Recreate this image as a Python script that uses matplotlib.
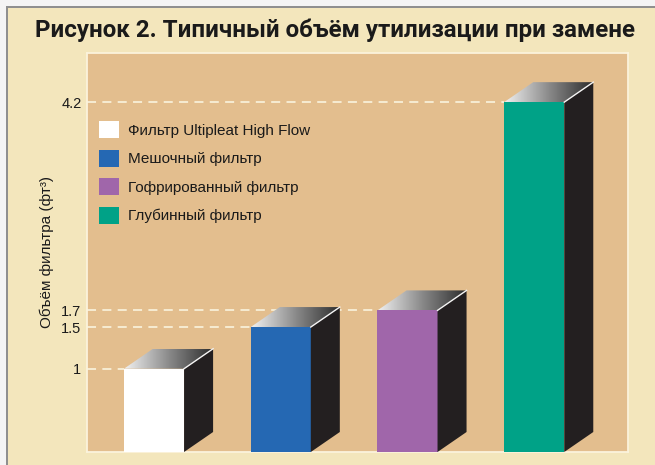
import numpy as np
import matplotlib
matplotlib.use("Agg")
import matplotlib.pyplot as plt
from matplotlib.patches import Polygon, Rectangle, Patch

# данные
categories = ['Фильтр Ultipleat High Flow', 'Мешочный фильтр',
              'Гофрированный фильтр', 'Глубинный фильтр']
volumes = [1, 1.5, 1.7, 4.2]
colors = ['#ffffff', '#2568b3', '#a066aa', '#00a287']
yticks = [1, 1.5, 1.7, 4.2]

title = 'Рисунок 2. Типичный объём утилизации при замене'
ylabel = 'Объём фильтра (фт³)'

plt.rcParams['font.family'] = ['Liberation Sans', 'DejaVu Sans']

W, H = 655, 465
fig = plt.figure(figsize=(W / 100, H / 100), dpi=100)
fig.patch.set_facecolor('#f4f4f4')
# кремовая подложка и серая тень сверху/слева
fig.patches.append(Rectangle((6 / W, 0), 1, 1 - 6 / H, transform=fig.transFigure,
                             facecolor='#8f8f8f', edgecolor='none', zorder=-2))
fig.patches.append(Rectangle((8 / W, 0), 1, 1 - 8 / H, transform=fig.transFigure,
                             facecolor='#f3e6bc', edgecolor='none', zorder=-1))

ax = fig.add_axes([87 / W, 13 / H, 541 / W, 399 / H])
ax.set_facecolor('#e3be8e')

x = np.arange(len(volumes))
width = 0.474
dx, dy = 0.229, 0.24   # глубина 3D
xlim = (-0.529, 3.74)
ylim = (0, 4.79)

gradient = np.linspace(0, 1, 256).reshape(1, -1)
cmap = matplotlib.colors.LinearSegmentedColormap.from_list('top', ['#f2f2f2', '#8a8a8a', '#2b2b2b'])

for xi, h, c in zip(x, volumes, colors):
    x0 = xi - width / 2
    x1 = xi + width / 2
    # пунктир от оси до столбца
    ax.hlines(h, xlim[0], x0, colors='#f8efd8', linestyles=(0, (5, 3.5)), linewidth=1.3, zorder=1)
    ax.add_patch(Rectangle((x0, 0), width, h, facecolor=c, edgecolor='none', zorder=3))
    side = Polygon([(x1, 0), (x1 + dx, dy), (x1 + dx, h + dy), (x1, h)],
                   closed=True, facecolor='#231f20', edgecolor='none', zorder=3)
    ax.add_patch(side)
    top = Polygon([(x0, h), (x1, h), (x1 + dx, h + dy), (x0 + dx, h + dy)],
                  closed=True, facecolor='none', edgecolor='none', zorder=3)
    ax.add_patch(top)
    im = ax.imshow(gradient, cmap=cmap, aspect='auto', extent=(x0, x1 + dx, h, h + dy),
                   origin='lower', zorder=3, interpolation='bilinear')
    im.set_clip_path(top)
    ax.plot([x1, x1 + dx], [h, h + dy], color='#f4f4f4', linewidth=1.0, zorder=4)

ax.set_xlim(*xlim)
ax.set_ylim(*ylim)
ax.set_xticks([])
ax.set_yticks(yticks)
ax.set_yticklabels([f'{v:g}' for v in yticks], fontsize=10.5)
ax.tick_params(axis='y', length=0, pad=4, labelcolor='#1a1a1a')
for s in ax.spines.values():
    s.set_color('#fbf3dc')
    s.set_linewidth(1.3)
ax.set_ylabel(ylabel, fontsize=11, labelpad=5, color='#1a1a1a')

handles = [Patch(facecolor=c, edgecolor='none') for c in colors]
ax.legend(handles, categories, loc='upper left', bbox_to_anchor=(0.022, 0.829),
          frameon=False, fontsize=11, handlelength=1.3, handleheight=1.35,
          handletextpad=0.6, labelspacing=0.74, borderpad=0, borderaxespad=0,
          labelcolor='#1a1a1a')

fig.text(335 / W, 1 - 30 / H, title, ha='center', va='center', fontsize=17.4,
         fontweight='bold', family=['Roboto', 'DejaVu Sans'], color='#1a1a1a')

fig.savefig('out.png', dpi=100, facecolor=fig.get_facecolor())
